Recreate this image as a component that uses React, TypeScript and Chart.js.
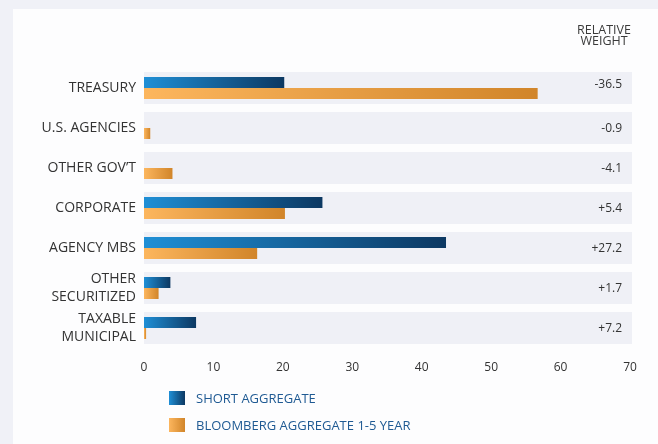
import React, { useEffect, useRef } from "react";
import { Chart, registerables } from "chart.js";

Chart.register(...registerables);

const categories: string[][] = [
  ["TREASURY"],
  ["U.S. AGENCIES"],
  ["OTHER GOV\u2019T"],
  ["CORPORATE"],
  ["AGENCY MBS"],
  ["OTHER", "SECURITIZED"],
  ["TAXABLE", "MUNICIPAL"],
];
const shortAggregate = [20.2, 0, 0, 25.7, 43.5, 3.8, 7.5];
const bloombergAggregate = [56.7, 0.9, 4.1, 20.3, 16.3, 2.1, 0.3];
const relativeWeight = ["-36.5", "-0.9", "-4.1", "+5.4", "+27.2", "+1.7", "+7.2"];
const seriesNames = ["SHORT AGGREGATE", "BLOOMBERG AGGREGATE 1-5 YEAR"];
const headerLines = ["RELATIVE", "WEIGHT"];
const xTicks = [0, 10, 20, 30, 40, 50, 60, 70];

const FONT = "'Open Sans', sans-serif";
const BLUE = ["#1f8fd6", "#0c3862"];
const ORANGE = ["#fcb65e", "#d1852a"];

function gradientFor(colors: string[]) {
  return (ctx: any) => {
    const chart = ctx.chart;
    if (!chart.chartArea || ctx.type !== "data") return colors[0];
    const xs = chart.scales.x;
    const x0 = xs.getPixelForValue(0);
    let x1 = xs.getPixelForValue(ctx.raw as number);
    if (x1 - x0 < 2) x1 = x0 + 2;
    const g = chart.ctx.createLinearGradient(x0, 0, x1, 0);
    g.addColorStop(0, colors[0]);
    g.addColorStop(1, colors[1]);
    return g;
  };
}

const bandsPlugin = {
  id: "bands",
  beforeDatasetsDraw(chart: any) {
    const { ctx, chartArea, scales } = chart;
    ctx.save();
    ctx.fillStyle = "#eff0f6";
    categories.forEach((_, i) => {
      const yc = scales.y.getPixelForValue(i);
      ctx.fillRect(chartArea.left, yc - 16, chartArea.right - chartArea.left + 2, 32);
    });
    ctx.restore();
  },
  afterDraw(chart: any) {
    const { ctx, scales } = chart;
    ctx.save();
    ctx.fillStyle = "#333333";
    ctx.font = `12px ${FONT}`;
    ctx.textAlign = "right";
    ctx.textBaseline = "middle";
    relativeWeight.forEach((t, i) => {
      const yc = scales.y.getPixelForValue(i);
      ctx.fillText(t, 609, i === 0 ? yc - 3 : yc + 1);
    });
    ctx.font = `12.5px ${FONT}`;
    ctx.textAlign = "center";
    ctx.fillStyle = "#3a3a3a";
    headerLines.forEach((t, i) => {
      ctx.fillText(t, 591, 21 + i * 11.5);
    });
    ctx.restore();
  },
};

export default function App() {
  const ref = useRef<HTMLCanvasElement>(null);
  useEffect(() => {
    if (!ref.current) return;
    Chart.defaults.font.family = FONT;
    const chart = new Chart(ref.current, {
      type: "bar",
      data: {
        labels: categories,
        datasets: [
          {
            label: seriesNames[0],
            data: shortAggregate,
            backgroundColor: gradientFor(BLUE),
            borderWidth: 0,
            categoryPercentage: 0.55,
            barPercentage: 1,
          },
          {
            label: seriesNames[1],
            data: bloombergAggregate,
            backgroundColor: gradientFor(ORANGE),
            borderWidth: 0,
            categoryPercentage: 0.55,
            barPercentage: 1,
          },
        ],
      },
      options: {
        indexAxis: "y",
        responsive: false,
        animation: false,
        layout: { padding: { left: 0, top: 59, right: 28, bottom: 66 } },
        plugins: { legend: { display: false }, tooltip: { enabled: false } },
        scales: {
          x: {
            min: 0,
            max: 70,
            afterBuildTicks: (s: any) => {
              s.ticks = xTicks.map((v) => ({ value: v }));
            },
            afterFit: (s: any) => {
              s.height = 30;
            },
            grid: { display: false, drawTicks: false },
            border: { display: false },
            ticks: { padding: 12, color: "#333333", font: { size: 12, family: FONT } },
          },
          y: {
            afterFit: (s: any) => {
              s.width = 131;
            },
            grid: { display: false, drawTicks: false },
            border: { display: false },
            ticks: {
              padding: 8,
              color: "#333333",
              font: { size: 14, family: FONT, lineHeight: 1.29 },
            },
          },
        },
      },
      plugins: [bandsPlugin],
    });
    return () => chart.destroy();
  }, []);

  const legendItem = (i: number, top: number, colors: string[]) => (
    <div
      key={i}
      style={{ position: "absolute", left: 169, top, height: 14, display: "flex", alignItems: "center" }}
    >
      <div
        style={{
          width: 16,
          height: 14,
          background: `linear-gradient(to right, ${colors[0]}, ${colors[1]})`,
        }}
      />
      <span
        style={{
          marginLeft: 11,
          fontFamily: FONT,
          fontSize: 13,
          color: "#1f5a93",
          whiteSpace: "nowrap",
          lineHeight: "14px",
        }}
      >
        {seriesNames[i]}
      </span>
    </div>
  );

  return (
    <div style={{ position: "fixed", left: 0, top: 0, width: 658, height: 444, background: "#f0f1f7", overflow: "hidden" }}>
      <div style={{ position: "absolute", left: 13, top: 9, width: 645, height: 435, background: "#fdfdfe" }}>
        <canvas ref={ref} width={645} height={435} style={{ display: "block" }} />
      </div>
      {legendItem(0, 391, BLUE)}
      {legendItem(1, 418, ORANGE)}
    </div>
  );
}
